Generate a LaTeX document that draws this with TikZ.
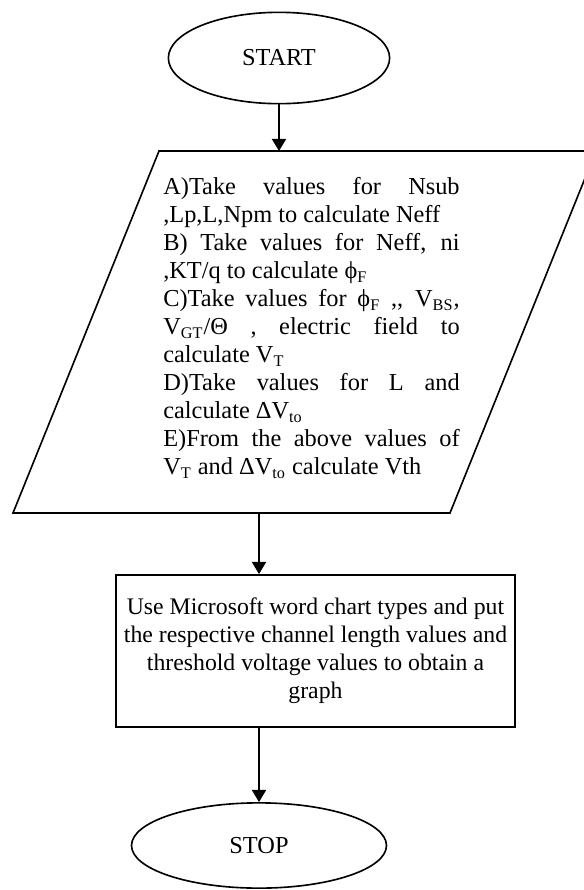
\documentclass[tikz,border=0pt]{standalone}
\usepackage{fontspec}
\setmainfont{Liberation Serif}
\usetikzlibrary{positioning, arrows.meta, shapes.geometric}

\begin{document}
\begin{tikzpicture}[x=0.4926pt, y=-0.4926pt, line width=0.8pt,
	font=\fontsize{12}{13.8}\selectfont,
	terminal/.style={ellipse, draw, text centered},
	flowarrow/.style={-{Triangle[length=6pt, width=7pt]}}]
	
	\useasboundingbox (0,0) rectangle (584,890);
	
	%Nodes
	\node (start) at (279,58) [terminal, minimum width=109pt, minimum height=45pt] {START};
	
	\coordinate (ioTL) at (159,151);
	\coordinate (ioTR) at (596,151);
	\coordinate (ioBR) at (450,513);
	\coordinate (ioBL) at (13,513);
	\coordinate (ioOut) at (259,513);
	\draw (ioTL) -- (ioTR) -- (ioBR) -- (ioBL) -- cycle;
	
	\node (ioText) at (311.5,328) [text width=146pt, align=justify, inner sep=0pt] {A)Take values for Nsub\linebreak ,Lp,L,Npm to calculate Neff\par
		B) Take values for Neff, ni\linebreak ,KT/q to calculate ϕ\textsubscript{F}\par
		C)Take values for ϕ\textsubscript{F} ,{}, V\textsubscript{BS},\linebreak V\textsubscript{GT}/Θ , electric field to\linebreak calculate V\textsubscript{T}\par
		D)Take values for L and\linebreak calculate ΔV\textsubscript{to}\par
		E)From the above values of\linebreak V\textsubscript{T} and ΔV\textsubscript{to} calculate Vth};
	
	\node (graphBox) at (315.5,651) [rectangle, draw, align=center, font=\fontsize{11.7}{13.8}\selectfont,
	minimum width=196.5pt, minimum height=75pt, inner sep=0pt] {Use Microsoft word chart types and put\\ the respective channel length values and\\ threshold voltage values to obtain a\\ graph};
	
	\node (stop) at (259,845.5) [terminal, minimum width=125.6pt, minimum height=42pt] {STOP};
	
	%Links
	\draw [flowarrow] (start.south) -- (start.south |- ioTL);
	\draw [flowarrow] (ioOut) -- (ioOut |- graphBox.north);
	\draw [flowarrow] (graphBox.south -| stop.north) -- (stop.north);
	
\end{tikzpicture}
\end{document}
